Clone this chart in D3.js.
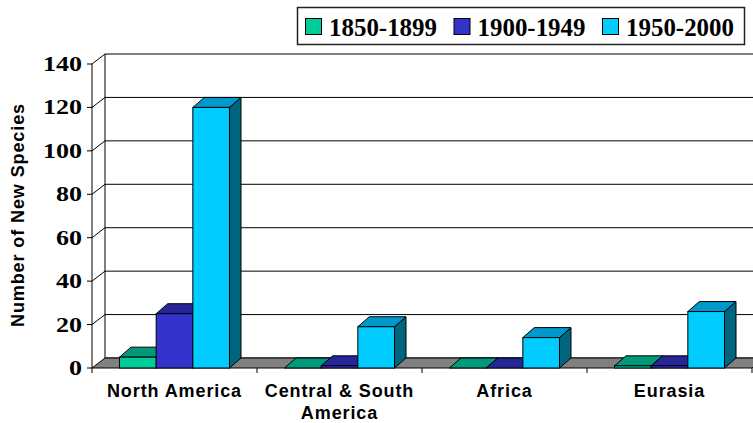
<!DOCTYPE html>
<html>
<head>
<meta charset="utf-8">
<script src="https://cdn.jsdelivr.net/npm/d3@7/dist/d3.min.js"></script>
<style>
  html, body { margin: 0; padding: 0; background: #fff; }
  svg { display: block; }
</style>
</head>
<body>
<svg id="chart" width="753" height="423"></svg>
<script>
// Regions and the three collection periods
const categories = ["North America", "Central & South America", "Africa", "Eurasia"];
const seriesNames = ["1850-1899", "1900-1949", "1950-2000"];
const values1850 = [5, 0, 0, 1];
const values1900 = [25, 1, 0, 1];
const values1950 = [120, 19, 14, 26];
const yTickValues = [0, 20, 40, 60, 80, 100, 120, 140];
const yTitle = "Number of New Species";

const seriesValues = [values1850, values1900, values1950];
const faceColors = ["#00cc99", "#3333cc", "#00ccff"];
const topColors  = ["#00997a", "#262699", "#0099cc"];
const sideColors = ["#00664d", "#1a1a66", "#006680"];

const svg = d3.select("#chart");

// Plot frame (front plane) and oblique depth offsets
const plotLeft = 92, plotRight = 752, plotTop = 64, plotBottom = 368;
const wallDx = 13, wallDy = -10;   // depth of floor / side wall
const barDx = 11.5, barDy = -10;   // depth of each column

const x0 = d3.scaleBand().domain(categories).range([plotLeft, plotRight]).padding(0);
const x1 = d3.scaleBand().domain(seriesNames).range([0, x0.bandwidth()])
  .paddingInner(0).paddingOuter(0.75);
const y = d3.scaleLinear().domain([0, 140]).range([plotBottom, plotTop]);

const g = svg.append("g");

// Back wall gridlines
g.append("g").selectAll("line").data(yTickValues).join("line")
  .attr("x1", plotLeft + wallDx).attr("x2", plotRight + wallDx + 20)
  .attr("y1", d => y(d) + wallDy).attr("y2", d => y(d) + wallDy)
  .attr("stroke", "#000").attr("stroke-width", 1);

// Back wall left edge
g.append("line")
  .attr("x1", plotLeft + wallDx).attr("x2", plotLeft + wallDx)
  .attr("y1", y(140) + wallDy).attr("y2", y(0) + wallDy)
  .attr("stroke", "#000");

// Side wall diagonals from the value axis to the back wall
g.append("g").selectAll("line").data(yTickValues.filter(d => d > 0)).join("line")
  .attr("x1", plotLeft).attr("y1", d => y(d))
  .attr("x2", plotLeft + wallDx).attr("y2", d => y(d) + wallDy)
  .attr("stroke", "#000");

// Floor
g.append("polygon")
  .attr("points", [
    [plotLeft, y(0)], [plotLeft + wallDx, y(0) + wallDy],
    [plotRight + wallDx, y(0) + wallDy], [plotRight, y(0)]
  ].map(p => p.join(",")).join(" "))
  .attr("fill", "#808080").attr("stroke", "#000").attr("stroke-width", 1);

// Value axis (front edge)
g.append("line")
  .attr("x1", plotLeft).attr("x2", plotLeft).attr("y1", y(140)).attr("y2", y(0))
  .attr("stroke", "#000");
g.append("g").selectAll("line").data(yTickValues).join("line")
  .attr("x1", plotLeft - 5).attr("x2", plotLeft)
  .attr("y1", d => y(d)).attr("y2", d => y(d))
  .attr("stroke", "#000");
g.append("g").selectAll("text").data(yTickValues).join("text")
  .attr("x", 82).attr("y", d => y(d) + 7)
  .attr("text-anchor", "end")
  .attr("font-family", "'Liberation Serif', 'Times New Roman', serif")
  .attr("font-weight", "bold").attr("font-size", 20)
  .attr("textLength", d => String(d).length * 13)
  .attr("lengthAdjust", "spacingAndGlyphs")
  .text(d => d);

// Category axis ticks along the front edge of the floor
const boundaries = categories.map(c => x0(c)).concat([x0(categories[categories.length - 1]) + x0.bandwidth()]);
g.append("g").selectAll("line").data(boundaries).join("line")
  .attr("x1", d => d).attr("x2", d => d)
  .attr("y1", y(0)).attr("y2", y(0) + 5)
  .attr("stroke", "#000");

// 3D columns, drawn left to right so each hides its neighbour's side face
const bars = g.append("g");
const pts = a => a.map(p => p.join(",")).join(" ");
categories.forEach((cat, i) => {
  seriesNames.forEach((s, j) => {
    const v = seriesValues[j][i];
    const bx = x0(cat) + x1(s);
    const w = x1.bandwidth();
    const yt = y(v), yb = y(0);
    bars.append("polygon")
      .attr("points", pts([[bx + w, yt], [bx + w + barDx, yt + barDy], [bx + w + barDx, yb + barDy], [bx + w, yb]]))
      .attr("fill", sideColors[j]).attr("stroke", "#000").attr("stroke-linejoin", "round");
    bars.append("polygon")
      .attr("points", pts([[bx, yt], [bx + barDx, yt + barDy], [bx + w + barDx, yt + barDy], [bx + w, yt]]))
      .attr("fill", topColors[j]).attr("stroke", "#000").attr("stroke-linejoin", "round");
    bars.append("rect")
      .attr("x", bx).attr("y", yt).attr("width", w).attr("height", yb - yt)
      .attr("fill", faceColors[j]).attr("stroke", "#000");
  });
});

// Category labels, wrapped to the category width
const labelFont = "'Liberation Sans', Arial, sans-serif";
const catLabels = g.append("g");
categories.forEach(cat => {
  const cx = x0(cat) + x0.bandwidth() / 2;
  const t = catLabels.append("text")
    .attr("x", cx).attr("y", 397)
    .attr("text-anchor", "middle")
    .attr("font-family", labelFont).attr("font-weight", "bold")
    .attr("font-size", 18).attr("letter-spacing", 0.9);
  const words = cat.split(" ");
  let line = [];
  let lineNo = 0;
  let tspan = t.append("tspan").attr("x", cx).attr("y", 397);
  words.forEach(word => {
    line.push(word);
    tspan.text(line.join(" "));
    if (tspan.node().getComputedTextLength() > x0.bandwidth() && line.length > 1) {
      line.pop();
      tspan.text(line.join(" "));
      line = [word];
      lineNo += 1;
      tspan = t.append("tspan").attr("x", cx).attr("y", 397 + lineNo * 22).text(word);
    }
  });
});

// Value axis title
svg.append("text")
  .attr("transform", "translate(24,215) rotate(-90)")
  .attr("text-anchor", "middle")
  .attr("font-family", labelFont).attr("font-weight", "bold")
  .attr("font-size", 18).attr("letter-spacing", 0.9)
  .text(yTitle);

// Legend
const legend = svg.append("g");
legend.append("rect")
  .attr("x", 297.5).attr("y", 7.5).attr("width", 447).attr("height", 37)
  .attr("fill", "#fff").attr("stroke", "#222").attr("stroke-width", 1.5);
const legendStep = 148.5;
seriesNames.forEach((s, j) => {
  const lx = 305 + j * legendStep;
  legend.append("rect")
    .attr("x", lx + 0.5).attr("y", 18.5).attr("width", 16).attr("height", 16)
    .attr("fill", faceColors[j]).attr("stroke", "#000");
  legend.append("text")
    .attr("x", lx + 24).attr("y", 36)
    .attr("font-family", "'Liberation Serif', 'Times New Roman', serif")
    .attr("font-weight", "bold").attr("font-size", 26)
    .attr("textLength", 108).attr("lengthAdjust", "spacingAndGlyphs")
    .text(s);
});
</script>
</body>
</html>
